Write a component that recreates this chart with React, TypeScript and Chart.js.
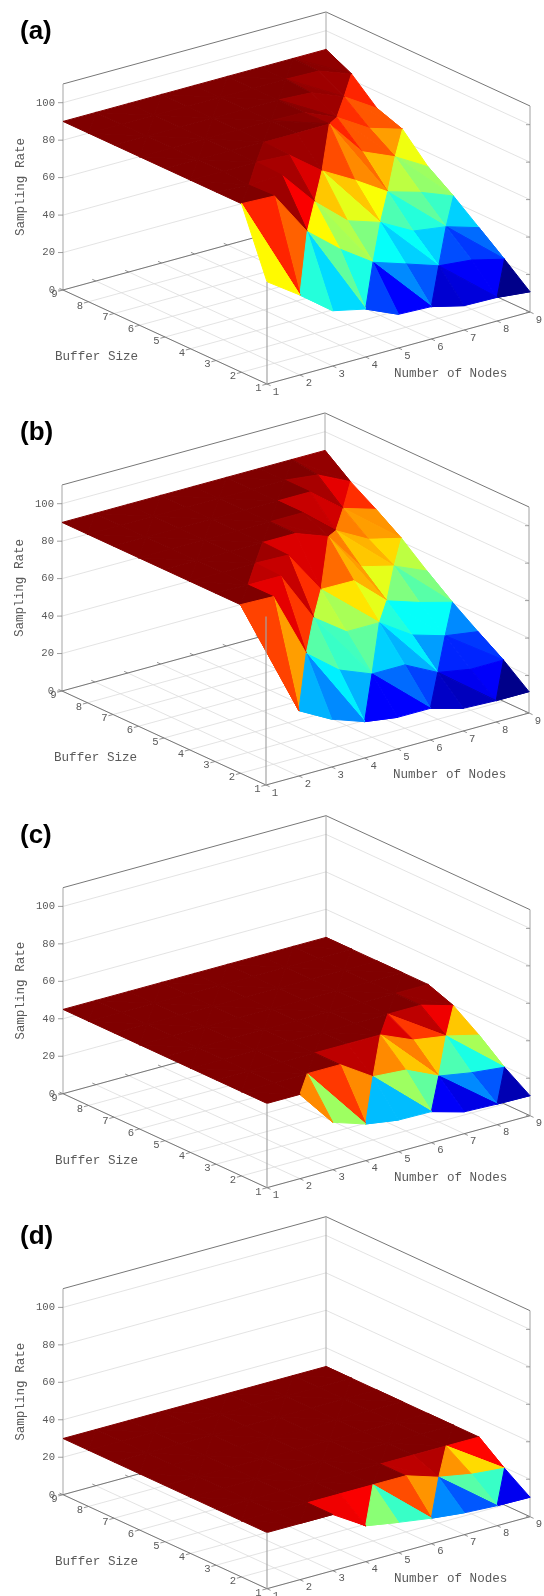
import React, { useEffect, useRef } from "react";
import { Chart, registerables } from "chart.js";

Chart.register(...registerables);

const nodeTicks = [1, 2, 3, 4, 5, 6, 7, 8, 9];
const bufferTicks = [1, 2, 3, 4, 5, 6, 7, 8, 9];
const rateTicks = [0, 20, 40, 60, 80, 100];
const rateMax = 110;

// Sampling rate, one row per buffer size (1..9), one column per number of nodes (1..9)
const surfaceA = [
  [54.6, 42.7, 29.5, 25.6, 18, 17.3, 13, 12.6, 10.8],
  [90, 89.3, 65.5, 51.3, 39.5, 33.8, 28, 26.3, 21.9],
  [90, 88.8, 89.4, 70.4, 55.4, 49.7, 40.3, 37.8, 32.5],
  [90, 90, 90, 89, 75.8, 66, 55, 49.9, 43.1],
  [90, 90, 90, 89.5, 89.5, 89.7, 70.1, 62.6, 52.5],
  [90, 90, 90, 90, 90, 89.5, 82.2, 71.5, 66.2],
  [90, 90, 90, 90, 90, 90, 89, 82.1, 71.1],
  [90, 90, 90, 90, 90, 90, 90, 89.5, 83.2],
  [90, 90, 90, 90, 90, 90, 90, 90, 90],
];
const surfaceB = [
  [72.3, 34.9, 25.5, 19.4, 16.9, 16.9, 12.1, 11.4, 11.4],
  [90, 89.5, 54.4, 40.7, 33.8, 33.8, 25, 21.9, 22],
  [90, 89.4, 89.4, 62.4, 50.1, 50.1, 38.7, 33.5, 30.9],
  [90, 90, 90, 89.5, 66.4, 66.2, 50.7, 45, 40.3],
  [90, 90, 90, 90, 90, 83.5, 62.6, 58.2, 50.7],
  [90, 90, 90, 90, 90, 90, 75.6, 66.2, 61.9],
  [90, 90, 90, 90, 90, 90, 90, 76.4, 71.1],
  [90, 90, 90, 90, 90, 90, 90, 88, 79.6],
  [90, 90, 90, 90, 90, 90, 90, 90, 90],
];
const surfaceC = [
  [45, 45, 25.3, 19.6, 16.9, 16.6, 11.7, 11, 10.7],
  [45, 45, 45, 45, 33.8, 32.5, 24.5, 21.5, 19.6],
  [45, 45, 45, 45, 45, 45, 37.5, 34.8, 30.5],
  [45, 45, 45, 45, 45, 45, 45, 45, 39.9],
  [45, 45, 45, 45, 45, 45, 45, 45, 45],
  [45, 45, 45, 45, 45, 45, 45, 45, 45],
  [45, 45, 45, 45, 45, 45, 45, 45, 45],
  [45, 45, 45, 45, 45, 45, 45, 45, 45],
  [45, 45, 45, 45, 45, 45, 45, 45, 45],
];
const surfaceD = [
  [30, 30, 30, 19.2, 16.2, 13.6, 11.7, 10.7, 10.4],
  [30, 30, 30, 30, 30, 30, 24.4, 21.2, 19.6],
  [30, 30, 30, 30, 30, 30, 30, 30, 30],
  [30, 30, 30, 30, 30, 30, 30, 30, 30],
  [30, 30, 30, 30, 30, 30, 30, 30, 30],
  [30, 30, 30, 30, 30, 30, 30, 30, 30],
  [30, 30, 30, 30, 30, 30, 30, 30, 30],
  [30, 30, 30, 30, 30, 30, 30, 30, 30],
  [30, 30, 30, 30, 30, 30, 30, 30, 30],
];

// Colour level (0..1 on the colour map) of each face: one row per buffer cell, two faces per
// node cell. Faces not listed are at the top level.
const facesA = [
  [0.63, 0.84, 0.41, 0.78, 0.34, 0.47, 0.19, 0.4, 0.125, 0.26, 0.08, 0.21, 0.09, 0.12, 0.01, 0.12],
  [1, 1, 0.97, 0.97, 0.63, 0.88, 0.54, 0.55, 0.38, 0.5, 0.33, 0.38, 0.2, 0.33, 0.18, 0.23],
  [1, 1, 0.97, 1, 0.96, 0.96, 0.68, 0.91, 0.6, 0.68, 0.45, 0.62, 0.41, 0.47, 0.33, 0.43],
  [1, 1, 1, 1, 0.98, 1, 0.97, 0.97, 0.8, 0.97, 0.74, 0.77, 0.56, 0.69, 0.52, 0.53],
  [1, 1, 1, 1, 1, 1, 1, 1, 1, 0.99, 0.84, 0.97, 0.79, 0.79, 0.61, 0.72],
  [1, 1, 1, 1, 1, 1, 1, 1, 1, 1, 0.99, 0.97, 0.83, 0.97, 0.79, 0.79],
  [1, 1, 1, 1, 1, 1, 1, 1, 1, 1, 1, 1, 0.98, 0.97, 0.84, 0.97],
  [1, 1, 1, 1, 1, 1, 1, 1, 1, 1, 1, 1, 1, 1, 0.99, 0.985],
];
const facesB = [
  [0.81, 0.81, 0.3, 0.72, 0.26, 0.36, 0.125, 0.3, 0.125, 0.23, 0.07, 0.19, 0.06, 0.11, 0.01, 0.12],
  [1, 1, 0.91, 0.9, 0.46, 0.82, 0.43, 0.44, 0.33, 0.47, 0.3, 0.36, 0.16, 0.28, 0.16, 0.18],
  [1, 1, 0.94, 1, 0.93, 0.93, 0.56, 0.83, 0.54, 0.65, 0.41, 0.6, 0.38, 0.38, 0.26, 0.38],
  [1, 1, 1, 1, 0.97, 1, 0.91, 0.91, 0.77, 0.91, 0.7, 0.72, 0.5, 0.6, 0.46, 0.5],
  [1, 1, 1, 1, 1, 1, 1, 1, 0.97, 0.97, 0.75, 0.97, 0.68, 0.7, 0.56, 0.66],
  [1, 1, 1, 1, 1, 1, 1, 1, 1, 1, 0.99, 0.93, 0.75, 0.92, 0.72, 0.73],
  [1, 1, 1, 1, 1, 1, 1, 1, 1, 1, 1, 1, 0.98, 0.96, 0.83, 0.9],
  [1, 1, 1, 1, 1, 1, 1, 1, 1, 1, 1, 1, 1, 1, 0.98, 0.98],
];
const facesC = [
  [1, 1, 0.74, 1, 0.53, 0.82, 0.31, 0.74, 0.31, 0.53, 0.12, 0.47, 0.1, 0.26, 0.05, 0.21],
  [1, 1, 1, 1, 1, 1, 0.94, 0.94, 0.74, 0.94, 0.68, 0.75, 0.45, 0.68, 0.4, 0.54],
  [1, 1, 1, 1, 1, 1, 1, 1, 1, 1, 0.91, 1, 0.82, 0.94, 0.68, 0.89],
  [1, 1, 1, 1, 1, 1, 1, 1, 1, 1, 1, 1, 1, 1, 0.98, 0.98],
];
const facesD = [
  [1, 1, 1, 1, 0.89, 0.89, 0.51, 0.88, 0.43, 0.8, 0.26, 0.73, 0.21, 0.46, 0.11, 0.43],
  [1, 1, 1, 1, 1, 1, 1, 1, 1, 1, 0.94, 0.94, 0.73, 0.95, 0.66, 0.87],
];

const panelLetters = ["(a)", "(b)", "(c)", "(d)"];
const surfaces = [surfaceA, surfaceB, surfaceC, surfaceD];
const faceLevels = [facesA, facesB, facesC, facesD];
const frontAxisTops = [54.6, 90, 45, 30];

const panelLayout = [
  { top: 0, height: 401, dx: 0, dy: 0 },
  { top: 401, height: 403, dx: -1, dy: 0 },
  { top: 804, height: 401, dx: 0, dy: -0.3 },
  { top: 1205, height: 391, dx: 0, dy: -0.3 },
];

const WIDTH = 544;
const xName = "Number of Nodes";
const yName = "Buffer Size";
const zName = "Sampling Rate";

const jet = (t: number) => {
  const c = (v: number) => Math.round(255 * Math.max(0, Math.min(1, v)));
  return `rgb(${c(Math.min(4 * t - 1.5, -4 * t + 4.5))},${c(Math.min(4 * t - 0.5, -4 * t + 3.5))},${c(Math.min(4 * t + 0.5, -4 * t + 2.5))})`;
};

function buildChart(canvas: HTMLCanvasElement, idx: number) {
  const surface = surfaces[idx];
  const levels = faceLevels[idx];
  const { height, dx, dy } = panelLayout[idx];
  const P = (n: number, b: number, z: number) => ({
    x: 267 + dx + 32.875 * (n - 1) - 25.5 * (b - 1),
    y: 384 + dy - 9 * (n - 1) - 11.75 * (b - 1) - 1.873 * z,
  });

  const line = (pts: { x: number; y: number }[], color: string, width = 1) => ({
    data: pts,
    showLine: true,
    borderColor: color,
    borderWidth: width,
    pointRadius: 0,
    fill: false as const,
  });

  const back: any[] = [];
  // floor grid
  for (const n of nodeTicks) back.push(line([P(n, 1, 0), P(n, 9, 0)], "#dcdcdc", 0.8));
  for (const b of bufferTicks) back.push(line([P(1, b, 0), P(9, b, 0)], "#dcdcdc", 0.8));
  // wall grid
  for (const z of rateTicks.slice(1))
    back.push(line([P(1, 9, z), P(9, 9, z), P(9, 1, z)], "#dcdcdc", 0.8));
  // box
  back.push(line([P(1, 9, rateMax), P(9, 9, rateMax), P(9, 1, rateMax)], "#777777", 1));
  back.push(line([P(1, 9, 0), P(1, 9, rateMax)], "#b4b4b4", 1.2));
  back.push(line([P(9, 9, 0), P(9, 9, rateMax)], "#a8a8a8", 1));
  back.push(line([P(9, 1, 0), P(9, 1, rateMax)], "#a0a0a0", 1));
  back.push(line([P(1, 9, 0), P(9, 9, 0), P(9, 1, 0)], "#777777", 1));
  back.push(line([P(1, 9, 0), P(1, 1, 0), P(9, 1, 0)], "#777777", 1));
  // ticks
  for (const n of nodeTicks) {
    back.push(line([P(n, 1, 0), P(n, 0.86, 0)], "#777777", 0.8));
    back.push(line([P(n, 9, 0), P(n, 9.14, 0)], "#777777", 0.8));
  }
  for (const b of bufferTicks) back.push(line([P(1, b, 0), P(0.86, b, 0)], "#777777", 0.8));
  for (const z of rateTicks) {
    const a = P(1, 9, z);
    back.push(line([a, { x: a.x - 5, y: a.y }], "#888888", 0.8));
    const r = P(9, 1, z);
    back.push(line([r, { x: r.x - 4, y: r.y }], "#888888", 0.8));
  }

  // surface triangles
  const faces: { key: number; ids: number[][]; level: number }[] = [];
  for (let b = 1; b < 9; b++) {
    for (let n = 1; n < 9; n++) {
      const oddSW = (n + b) % 2 === 1;
      const tris = oddSW
        ? [
            [[n, b], [n + 1, b], [n + 1, b + 1]],
            [[n, b], [n + 1, b + 1], [n, b + 1]],
          ]
        : [
            [[n + 1, b], [n, b + 1], [n, b]],
            [[n + 1, b], [n + 1, b + 1], [n, b + 1]],
          ];
      tris.forEach((t, k) => {
        const key = t.reduce((s, v) => s + v[0] + v[1], 0);
        const level = levels[b - 1]?.[(n - 1) * 2 + k] ?? 1;
        faces.push({ key, ids: t, level });
      });
    }
  }
  faces.sort((u, v) => u.key - v.key); // nearest first: Chart.js paints index 0 last
  const tri = faces.map((f) => {
    const col = jet(f.level);
    const pts = f.ids.map(([n, b]) => P(n, b, surface[b - 1][n - 1]));
    return {
      data: [...pts, pts[0], pts[1]],
      showLine: true,
      borderColor: col,
      backgroundColor: col,
      borderWidth: 1,
      borderJoinStyle: "round" as const,
      borderCapStyle: "round" as const,
      pointRadius: 0,
      fill: "shape" as const,
    };
  });

  const front = [line([P(1, 1, 0), P(1, 1, frontAxisTops[idx])], "#a4a4a4", 1.2)];

  const labels = {
    id: "labels",
    afterDraw(chart: any) {
      const { ctx, scales } = chart;
      const X = (p: { x: number; y: number }) => scales.x.getPixelForValue(p.x);
      const Y = (p: { x: number; y: number }) => scales.y.getPixelForValue(p.y);
      ctx.save();
      ctx.fillStyle = "#5a5a5a";
      ctx.textBaseline = "middle";
      ctx.font = '10.6px "Liberation Mono"';
      ctx.textAlign = "center";
      for (const n of nodeTicks) {
        const p = P(n, 1, 0);
        ctx.fillText(String(n), X(p) + 9, Y(p) + 7.7);
      }
      for (const b of bufferTicks) {
        const p = P(1, b, 0);
        ctx.fillText(String(b), X(p) - 8.5, Y(p) + 4);
      }
      ctx.textAlign = "right";
      for (const z of rateTicks) {
        const p = P(1, 9, z);
        ctx.fillText(String(z), X(p) - 8, Y(p));
      }
      ctx.font = '12.6px "Liberation Mono"';
      ctx.textAlign = "left";
      ctx.fillText(yName, 55 + dx, 357 + dy);
      ctx.fillText(xName, 394 + dx, 374 + dy);
      ctx.save();
      ctx.translate(21 + dx, 187 + dy);
      ctx.rotate(-Math.PI / 2);
      ctx.textAlign = "center";
      ctx.fillText(zName, 0, 0);
      ctx.restore();
      ctx.fillStyle = "#000";
      ctx.font = 'bold 26px "Liberation Sans"';
      ctx.textAlign = "left";
      ctx.fillText(panelLetters[idx], 20, 32);
      ctx.restore();
    },
  };

  return new Chart(canvas, {
    type: "scatter",
    data: { datasets: [...front, ...tri, ...back.reverse()] },
    plugins: [labels],
    options: {
      responsive: false,
      animation: false,
      events: [],
      layout: { padding: 0 },
      plugins: { legend: { display: false }, tooltip: { enabled: false }, title: { display: false } },
      scales: {
        x: { type: "linear", display: false, min: 0, max: WIDTH },
        y: { type: "linear", display: false, min: 0, max: height, reverse: true },
      },
    } as any,
  });
}

function Panel({ idx }: { idx: number }) {
  const ref = useRef<HTMLCanvasElement | null>(null);
  const { top, height } = panelLayout[idx];
  useEffect(() => {
    const chart = buildChart(ref.current!, idx);
    return () => chart.destroy();
  }, [idx]);
  return (
    <canvas
      ref={ref}
      width={WIDTH}
      height={height}
      style={{ position: "absolute", left: 0, top, width: WIDTH, height, filter: "blur(0.4px)" }}
    />
  );
}

export default function App() {
  return (
    <div style={{ position: "absolute", left: 0, top: 0, width: WIDTH, height: 1596, background: "#fff", overflow: "hidden" }}>
      {panelLetters.map((_, i) => (
        <Panel key={i} idx={i} />
      ))}
    </div>
  );
}
